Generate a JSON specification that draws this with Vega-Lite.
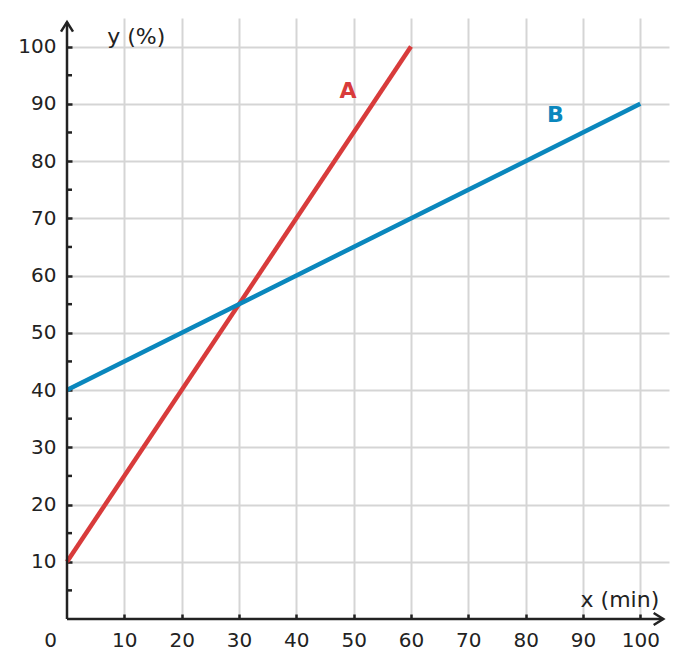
{
  "$schema": "https://vega.github.io/schema/vega-lite/v6.json",
  "autosize": "none",
  "width": 602,
  "height": 601,
  "padding": {"left": 67, "top": 18, "right": 18, "bottom": 49},
  "background": "white",
  "config": {
    "view": {"stroke": null},
    "font": "DejaVu Sans"
  },
  "datasets": {
    "lines": [
      {"series": "A", "x": 0, "y": 10},
      {"series": "A", "x": 60, "y": 100},
      {"series": "B", "x": 0, "y": 40},
      {"series": "B", "x": 100, "y": 90}
    ],
    "labels": [
      {"series": "A", "x": 49, "y": 92.3},
      {"series": "B", "x": 85.2, "y": 88.1}
    ],
    "minor": [
      {"y": 5}, {"y": 15}, {"y": 25}, {"y": 35}, {"y": 45},
      {"y": 55}, {"y": 65}, {"y": 75}, {"y": 85}, {"y": 95}
    ],
    "one": [{}]
  },
  "layer": [
    {
      "data": {"name": "lines"},
      "mark": {"type": "line", "strokeWidth": 4.5, "strokeCap": "butt"},
      "encoding": {
        "x": {
          "field": "x",
          "type": "quantitative",
          "scale": {"domain": [0, 105], "nice": false, "zero": false},
          "axis": {
            "title": null,
            "domain": false,
            "values": [0, 10, 20, 30, 40, 50, 60, 70, 80, 90, 100],
            "grid": true,
            "gridColor": "#d5d5d5",
            "gridWidth": 2,
            "gridOpacity": {"expr": "datum.value == 0 ? 0 : 1"},
            "ticks": true,
            "tickSize": -5,
            "tickWidth": 2.5,
            "tickColor": "#222222",
            "tickOpacity": {"expr": "datum.value == 0 ? 0 : 1"},
            "labelPadding": 16,
            "labelFontSize": 20,
            "labelColor": "#222222",
            "labelFont": "DejaVu Sans",
            "labelOffset": {"expr": "datum.value == 0 ? -17 : 0"},
            "labelFlush": false,
            "labelOverlap": false
          }
        },
        "y": {
          "field": "y",
          "type": "quantitative",
          "scale": {"domain": [0, 105], "nice": false, "zero": false},
          "axis": {
            "title": null,
            "domain": false,
            "values": [10, 20, 30, 40, 50, 60, 70, 80, 90, 100],
            "grid": true,
            "gridColor": "#d5d5d5",
            "gridWidth": 2,
            "ticks": true,
            "tickSize": -5,
            "tickWidth": 2.5,
            "tickColor": "#222222",
            "labelPadding": 16,
            "labelFontSize": 20,
            "labelColor": "#222222",
            "labelFont": "DejaVu Sans",
            "labelFlush": false,
            "labelOverlap": false
          }
        },
        "color": {
          "field": "series",
          "type": "nominal",
          "scale": {"domain": ["A", "B"], "range": ["#d83b3b", "#0a87bd"]},
          "legend": null
        },
        "detail": {"field": "series"}
      }
    },
    {
      "data": {"name": "labels"},
      "mark": {"type": "text", "fontSize": 22, "fontWeight": "bold", "font": "DejaVu Sans", "align": "center", "baseline": "middle"},
      "encoding": {
        "x": {"field": "x", "type": "quantitative"},
        "y": {"field": "y", "type": "quantitative"},
        "text": {"field": "series"},
        "color": {"field": "series", "type": "nominal", "legend": null}
      }
    },
    {
      "data": {"name": "minor"},
      "mark": {"type": "tick", "orient": "horizontal", "color": "#222222", "thickness": 2.5, "size": 5, "xOffset": 2.5, "opacity": 1},
      "encoding": {
        "x": {"datum": 0},
        "y": {"field": "y", "type": "quantitative"}
      }
    },
    {
      "data": {"name": "one"},
      "mark": {"type": "rule", "stroke": "#222222", "strokeWidth": 2.5},
      "encoding": {
        "x": {"datum": 0},
        "x2": {"datum": 104},
        "y": {"datum": 0}
      }
    },
    {
      "data": {"name": "one"},
      "mark": {"type": "rule", "stroke": "#222222", "strokeWidth": 2.5},
      "encoding": {
        "x": {"datum": 0},
        "y": {"datum": 0},
        "y2": {"datum": 104.3}
      }
    },
    {
      "data": {"name": "one"},
      "mark": {"type": "point", "shape": "M-1.6,-1L0,0L-1.6,1", "size": 144, "filled": false, "stroke": "#222222", "strokeWidth": 2.5, "opacity": 1},
      "encoding": {
        "x": {"datum": 104},
        "y": {"datum": 0}
      }
    },
    {
      "data": {"name": "one"},
      "mark": {"type": "point", "shape": "M-1,1.6L0,0L1,1.6", "size": 144, "filled": false, "stroke": "#222222", "strokeWidth": 2.5, "opacity": 1},
      "encoding": {
        "x": {"datum": 0},
        "y": {"datum": 104.3}
      }
    },
    {
      "data": {"name": "one"},
      "mark": {"type": "text", "fontSize": 22, "font": "DejaVu Sans", "color": "#222222", "align": "left", "baseline": "middle"},
      "encoding": {
        "x": {"datum": 7.0},
        "y": {"datum": 101.7},
        "text": {"value": "y (%)"}
      }
    },
    {
      "data": {"name": "one"},
      "mark": {"type": "text", "fontSize": 22, "font": "DejaVu Sans", "color": "#222222", "align": "right", "baseline": "middle"},
      "encoding": {
        "x": {"datum": 103.3},
        "y": {"datum": 3.3},
        "text": {"value": "x (min)"}
      }
    }
  ]
}
